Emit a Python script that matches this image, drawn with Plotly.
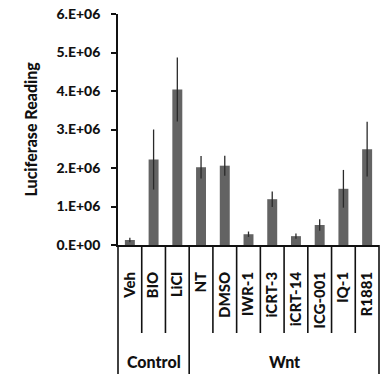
import plotly.graph_objects as go

categories = ["Veh", "BIO", "LiCl", "NT", "DMSO", "IWR-1", "iCRT-3", "iCRT-14", "ICG-001", "IQ-1", "R1881"]
values = [0.13e6, 2.22e6, 4.04e6, 2.02e6, 2.06e6, 0.28e6, 1.19e6, 0.23e6, 0.52e6, 1.46e6, 2.49e6]
errors = [0.06e6, 0.78e6, 0.83e6, 0.29e6, 0.26e6, 0.07e6, 0.20e6, 0.07e6, 0.15e6, 0.49e6, 0.71e6]
group_names = ["Control", "Wnt"]
group_sizes = [3, 8]
y_tick_vals = [0, 1e6, 2e6, 3e6, 4e6, 5e6, 6e6]
y_tick_text = ["0.E+00", "1.E+06", "2.E+06", "3.E+06", "4.E+06", "5.E+06", "6.E+06"]

FONT = "Lato"
n = len(categories)

fig = go.Figure()
fig.add_trace(go.Bar(
    x=categories, y=values,
    marker=dict(color="#636363", line=dict(width=0)),
    width=0.42,
    error_y=dict(type="data", array=errors, visible=True, color="#2a2a2a", thickness=1.3, width=0),
))

shapes = []
bounds = [0]
for s in group_sizes:
    bounds.append(bounds[-1] + s)
for i in range(n + 1):
    xp = i / n
    full = i in bounds
    shapes.append(dict(type="line", xref="paper", yref="paper",
                       x0=xp, x1=xp, y0=0, y1=-0.56 if full else -0.381,
                       line=dict(color="#111", width=1.6)))

annotations = [dict(text="Luciferase Reading", textangle=-90, xref="paper", yref="paper",
                    x=0, y=0.5, xshift=-88, xanchor="center", yanchor="middle", showarrow=False,
                    font=dict(family=FONT, size=16, color="#111", weight=900))]
for gi, g in enumerate(group_names):
    c = (bounds[gi] + bounds[gi + 1]) / 2 / n
    annotations.append(dict(text=g, xref="paper", yref="paper", x=c, y=-0.506,
                            xanchor="center", yanchor="middle", showarrow=False,
                            font=dict(family=FONT, size=16, color="#111", weight=900)))

fig.update_layout(
    width=382, height=374,
    margin=dict(l=118, r=3, t=14, b=129, pad=0),
    plot_bgcolor="white", paper_bgcolor="white",
    showlegend=False,
    shapes=shapes, annotations=annotations,
    xaxis=dict(range=[-0.5, n - 0.5], showgrid=False, zeroline=False,
               showline=True, linecolor="#111", linewidth=1.8,
               ticks="", tickangle=-90, ticklabelstandoff=19,
               tickfont=dict(family=FONT, size=15, color="#111", weight=900)),
    yaxis=dict(range=[0, 6e6], tickvals=y_tick_vals, ticktext=y_tick_text,
               showgrid=False, zeroline=False, showline=True, linecolor="#111", linewidth=1.8,
               ticks="outside", ticklen=5, tickwidth=1.5, tickcolor="#111",
               ticklabelstandoff=8,
               tickfont=dict(family=FONT, size=14, color="#111", weight=900)),
)

fig.write_html("out.html", config={"displayModeBar": False},
               post_script="document.body.style.margin='0';document.body.style.overflow='hidden';")
